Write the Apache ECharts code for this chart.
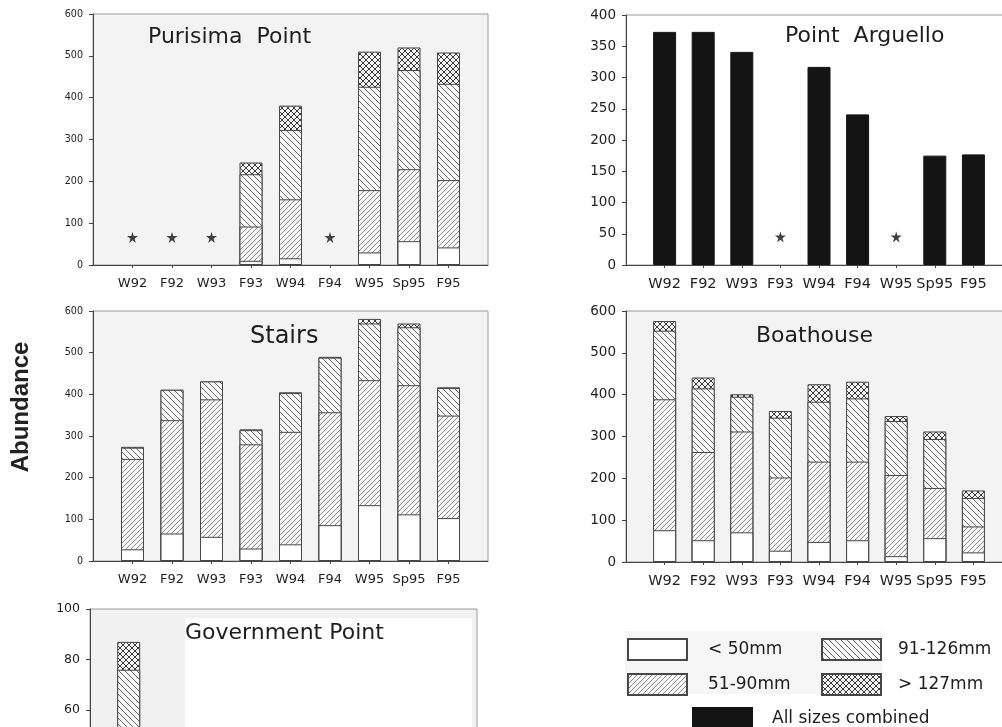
<!DOCTYPE html>
<html>
<head>
<meta charset="utf-8">
<title>Abundance by size class</title>
<script src="https://cdn.jsdelivr.net/npm/echarts@6/dist/echarts.min.js"></script>
<style>
  html, body { margin: 0; padding: 0; background: #ffffff; }
  #chart { width: 1002px; height: 727px; }
</style>
</head>
<body>
<div id="chart"></div>
<script>
// Sampling seasons shared by every site
const seasons = ['W92', 'F92', 'W93', 'F93', 'W94', 'F94', 'W95', 'Sp95', 'F95'];

// Size classes (legend labels)
const sizeClasses = ['< 50mm', '51-90mm', '91-126mm', '> 127mm'];
const combinedLabel = 'All sizes combined';

// Purisima Point abundance per size class (null = not sampled)
const purisimaLt50    = [null, null, null, 10, 16, null, 30, 57, 42];
const purisima51to90  = [null, null, null, 82, 141, null, 149, 172, 161];
const purisima91to126 = [null, null, null, 125, 166, null, 247, 237, 230];
const purisimaGt127   = [null, null, null, 28, 58, null, 84, 54, 75];

// Point Arguello, all sizes combined
const arguelloAll = [373, 373, 341, null, 317, 241, null, 175, 177];

// Stairs
const stairsLt50    = [28, 66, 58, 30, 40, 86, 134, 112, 103];
const stairs51to90  = [217, 272, 330, 250, 270, 271, 300, 310, 246];
const stairs91to126 = [27, 73, 43, 34, 93, 131, 136, 139, 66];
const stairsGt127   = [2, 0, 0, 2, 2, 2, 11, 9, 2];

// Boathouse
const boathouseLt50    = [76, 52, 71, 27, 48, 52, 14, 57, 23];
const boathouse51to90  = [313, 211, 241, 175, 192, 188, 194, 120, 62];
const boathouse91to126 = [164, 152, 83, 143, 143, 151, 129, 117, 68];
const boathouseGt127   = [23, 26, 6, 16, 42, 40, 12, 18, 18];

// Government Point
const governmentLt50    = [10, null, null, null, null, null, null, null, null];
const government51to90  = [30, null, null, null, null, null, null, null, null];
const government91to126 = [36, null, null, null, null, null, null, null, null];
const governmentGt127   = [11, null, null, null, null, null, null, null, null];

// Y axis tick ranges
const yTicksPurisima = { max: 600, step: 100 };
const yTicksArguello = { max: 400, step: 50 };
const yTicksStairs = { max: 600, step: 100 };
const yTicksBoathouse = { max: 600, step: 100 };
const yTicksGovernment = { max: 100, step: 20 };

const SANS = '"DejaVu Sans", sans-serif';
const INK = '#1e1e1e';
const AXIS = '#444444';

// ---- hatch fills drawn on small canvases ----
function hatchCanvas(kind, size, lineColor, bg) {
  const c = document.createElement('canvas');
  c.width = size; c.height = size;
  const ctx = c.getContext('2d');
  ctx.fillStyle = bg;
  ctx.fillRect(0, 0, size, size);
  ctx.strokeStyle = lineColor;
  ctx.lineWidth = 1;
  ctx.beginPath();
  if (kind === 'fwd' || kind === 'cross') {
    ctx.moveTo(0, size); ctx.lineTo(size, 0);
    ctx.moveTo(-1, 1); ctx.lineTo(1, -1);
    ctx.moveTo(size - 1, size + 1); ctx.lineTo(size + 1, size - 1);
  }
  if (kind === 'back' || kind === 'cross') {
    ctx.moveTo(0, 0); ctx.lineTo(size, size);
    ctx.moveTo(-1, size - 1); ctx.lineTo(1, size + 1);
    ctx.moveTo(size - 1, -1); ctx.lineTo(size + 1, 1);
  }
  ctx.stroke();
  return c;
}

const fills = [
  '#ffffff',
  { image: hatchCanvas('fwd', 5, '#8a8a8a', '#fafafa'), repeat: 'repeat' },
  { image: hatchCanvas('back', 6, '#6a6a6a', '#fafafa'), repeat: 'repeat' },
  { image: hatchCanvas('cross', 6, '#3a3a3a', '#f4f4f4'), repeat: 'repeat' }
];

const starPath = 'path://M50,0 L61,35 L98,35 L68,57 L79,91 L50,70 L21,91 L32,57 L2,35 L39,35 Z';

// ---- panel layout ----
const panels = [
  { title: 'Purisima  Point', titleAt: [148, 37], titleSize: 22,
    grid: { left: 93, top: 14, width: 395, height: 251 }, bg: '#f3f3f3',
    yTicks: yTicksPurisima, yFont: 9.6, xFont: 13,
    classes: [purisimaLt50, purisima51to90, purisima91to126, purisimaGt127], starLevel: 66 },
  { title: 'Point  Arguello', titleAt: [785, 36], titleSize: 22,
    grid: { left: 626, top: 15, width: 386, height: 250 }, bg: '#ffffff',
    yTicks: yTicksArguello, yFont: 13.5, xFont: 14.5,
    combined: arguelloAll, starLevel: 45 },
  { title: 'Stairs', titleAt: [250, 337], titleSize: 24,
    grid: { left: 93, top: 311, width: 395, height: 250 }, bg: '#f3f3f3',
    yTicks: yTicksStairs, yFont: 9.6, xFont: 13,
    classes: [stairsLt50, stairs51to90, stairs91to126, stairsGt127] },
  { title: 'Boathouse', titleAt: [756, 336], titleSize: 22,
    grid: { left: 626, top: 311, width: 386, height: 251 }, bg: '#f3f3f3',
    yTicks: yTicksBoathouse, yFont: 13.5, xFont: 14.5,
    classes: [boathouseLt50, boathouse51to90, boathouse91to126, boathouseGt127] },
  { title: 'Government Point', titleAt: [185, 633], titleSize: 22,
    grid: { left: 90, top: 609, width: 387, height: 253 }, bg: '#f1f1f1',
    yTicks: yTicksGovernment, yFont: 12.5, xFont: 13,
    classes: [governmentLt50, government51to90, government91to126, governmentGt127] }
];

const positions = seasons.map((s, i) => i + 1);

const grids = [], xAxes = [], yAxes = [], series = [];
const graphics = [];

panels.forEach((p, gi) => {
  grids.push(Object.assign({
    show: true, backgroundColor: p.bg, borderColor: '#9a9a9a', borderWidth: 1,
    containLabel: false, outerBoundsMode: 'none'
  }, p.grid));

  xAxes.push({
    type: 'value', gridIndex: gi, min: 0, max: 10, interval: 1,
    splitLine: { show: false },
    axisLine: { show: true, lineStyle: { color: AXIS, width: 1 } },
    axisTick: { show: true, length: 3, customValues: positions, lineStyle: { color: AXIS } },
    axisLabel: {
      customValues: positions, margin: 12,
      fontFamily: SANS, fontSize: p.xFont, color: INK,
      formatter: v => seasons[Math.round(v) - 1] || ''
    }
  });

  yAxes.push({
    type: 'value', gridIndex: gi, min: 0, max: p.yTicks.max, interval: p.yTicks.step,
    splitLine: { show: false },
    axisLine: { show: true, lineStyle: { color: AXIS, width: 1 } },
    axisTick: { show: true, length: 4, lineStyle: { color: AXIS } },
    axisLabel: { margin: 10, fontFamily: SANS, fontSize: p.yFont, color: INK }
  });

  const missing = [];

  if (p.classes) {
    // cumulative heights so every segment sits on top of the one below
    const cum = p.classes.map((arr, k) => arr.map((v, i) => {
      if (v == null) return null;
      let s = 0;
      for (let j = 0; j <= k; j++) s += p.classes[j][i];
      return s;
    }));
    for (let k = sizeClasses.length - 1; k >= 0; k--) {
      series.push({
        type: 'bar', name: sizeClasses[k], xAxisIndex: gi, yAxisIndex: gi,
        barWidth: 23, barGap: '-100%', silent: true,
        itemStyle: { color: fills[k], borderColor: '#474747', borderWidth: 1 },
        data: positions.map((x, i) => cum[k][i] == null ? null : [x, cum[k][i]]).filter(Boolean)
      });
    }
    p.classes[0].forEach((v, i) => { if (v == null) missing.push(positions[i]); });
  } else {
    series.push({
      type: 'bar', name: combinedLabel, xAxisIndex: gi, yAxisIndex: gi,
      barWidth: 23, silent: true,
      itemStyle: { color: '#141414', borderColor: '#141414', borderWidth: 1 },
      data: positions.map((x, i) => p.combined[i] == null ? null : [x, p.combined[i]]).filter(Boolean)
    });
    p.combined.forEach((v, i) => { if (v == null) missing.push(positions[i]); });
  }

  // stars mark seasons that were not sampled
  if (p.starLevel != null && missing.length) {
    series.push({
      type: 'scatter', xAxisIndex: gi, yAxisIndex: gi, silent: true,
      symbol: starPath, symbolSize: 11,
      itemStyle: { color: '#111111' },
      data: missing.map(x => [x, p.starLevel])
    });
  }

  graphics.push({
    type: 'text', x: p.titleAt[0], y: p.titleAt[1], z: 20,
    style: { text: p.title, font: 'normal ' + p.titleSize + 'px ' + SANS,
             fill: INK, align: 'left', verticalAlign: 'middle' }
  });
});

// blank patch behind the Government Point title
graphics.unshift({
  type: 'rect', z: 1, silent: true,
  shape: { x: 185, y: 618, width: 287, height: 120 },
  style: { fill: '#ffffff' }
});
// legend panel backdrop
graphics.unshift({
  type: 'rect', z: 0, silent: true,
  shape: { x: 625, y: 631, width: 257, height: 63 },
  style: { fill: '#f6f6f6' }
});
// shared y axis title
graphics.push({
  type: 'text', x: 21, y: 407, rotation: Math.PI / 2, z: 20,
  style: { text: 'Abundance', font: 'bold 24px "Liberation Sans", Arial, sans-serif',
           fill: '#222222', align: 'center', verticalAlign: 'middle' }
});

const legendBase = {
  orient: 'vertical', itemWidth: 59, itemHeight: 21, itemGap: 12,
  selectedMode: false, padding: 0, icon: 'rect',
  textStyle: { fontFamily: SANS, fontSize: 17, color: INK }
};

const option = {
  animation: false,
  backgroundColor: '#ffffff',
  grid: grids,
  xAxis: xAxes,
  yAxis: yAxes,
  series: series,
  graphic: graphics,
  legend: [
    Object.assign({}, legendBase, { left: 627, top: 638, data: ['< 50mm', '51-90mm'],
      textStyle: Object.assign({}, legendBase.textStyle, { padding: [0, 0, 0, 16] }) }),
    Object.assign({}, legendBase, { left: 821, top: 638, data: ['91-126mm', '> 127mm'],
      textStyle: Object.assign({}, legendBase.textStyle, { padding: [0, 0, 0, 12] }) }),
    Object.assign({}, legendBase, { left: 692, top: 707, data: [combinedLabel],
      textStyle: Object.assign({}, legendBase.textStyle, { padding: [0, 0, 0, 15] }) })
  ]
};

const chart = echarts.init(document.getElementById('chart'), null, { renderer: 'canvas' });
chart.setOption(option);
</script>
</body>
</html>
